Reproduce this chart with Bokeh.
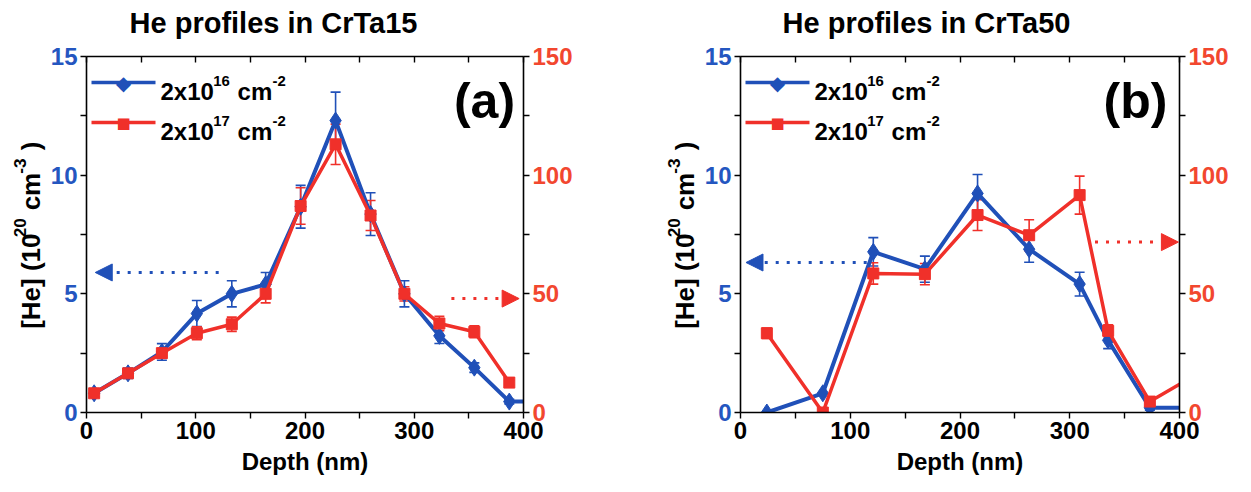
import math
from bokeh.plotting import figure
from bokeh.models import (Range1d, LinearAxis, FixedTicker, Whisker, ColumnDataSource,
                          Label, BoxAnnotation, Arrow, NormalHead, TeeHead)
from bokeh.layouts import row, column
from bokeh.embed import file_html
from bokeh.resources import INLINE

# ---------------- data ----------------
# Panel (a): CrTa15
depth_a = [7, 38, 69, 101, 133, 164, 196, 228, 260, 291, 323, 355, 387, 419]
blue_a = [0.81, 1.65, 2.55, 4.17, 5.0, 5.4, 8.67, 12.3, 8.36, 5.0, 3.23, 1.89, 0.46, 0.46]
blue_a_err = [0.15, 0.22, 0.35, 0.55, 0.55, 0.5, 0.9, 1.2, 0.9, 0.55, 0.32, 0.2, 0.1, 0.1]
red_depth_a = [7, 38, 69, 101, 133, 164, 196, 228, 260, 291, 323, 355, 387]
red_a = [8.1, 16.5, 25.0, 33.4, 37.2, 50.0, 87.0, 113.0, 83.0, 50.0, 37.5, 34.0, 12.6]
red_a_err = [1.2, 1.5, 2.0, 2.7, 3.0, 3.8, 7.7, 8.5, 6.3, 3.0, 3.0, 2.5, 1.0]

# Panel (b): CrTa50
depth_b = [24, 75, 121, 168, 216, 263, 309, 335, 373, 421]
blue_b = [0.0, 0.81, 6.77, 6.04, 9.23, 6.88, 5.41, 3.04, 0.2, 0.2]
blue_b_err = [0.0, 0.0, 0.6, 0.55, 0.8, 0.55, 0.5, 0.35, 0.1, 0.1]
red_b = [33.4, 0.0, 58.6, 58.3, 83.2, 74.7, 91.6, 34.4, 4.6, 17.6]
red_b_err = [2.2, 0.0, 4.5, 4.5, 6.5, 6.5, 8.0, 2.5, 1.0, 1.0]

x_ticks = [0, 100, 200, 300, 400]
x_minor = [50, 150, 250, 350]
top_ticks = [0, 50, 100, 150, 200, 250, 300, 350, 400]
left_ticks = [0, 5, 10, 15]
left_minor = [2.5, 7.5, 12.5]
right_ticks = [0, 50, 100, 150]
right_minor = [25, 75, 125]

titles = ["He profiles in CrTa15", "He profiles in CrTa50"]
panel_tags = ["(a)", "(b)"]
x_label = "Depth (nm)"
y_label_pieces = [("[He] (10", False), ("20", True), ("cm", False), ("-3", True), (")", False)]
legend_texts = [[("2x10", False), ("16", True), ("cm", False), ("-2", True)],
                [("2x10", False), ("17", True), ("cm", False), ("-2", True)]]

# arrow annotations: (x_start, x_end, y) blue on left scale, red on right scale
arrows_a = {"blue": (121, 8, 5.9), "red": (334, 396, 48)}
arrows_b = {"blue": (115, 5, 6.32), "red": (323, 399, 71.8)}

# ---------------- style ----------------
BLUE = "#2050B8"
RED = "#F0302A"
RED_LBL = "#F2472F"
BLUE_LBL = "#2456C0"
FONT = "Liberation Sans"
H = 492           # page height
HT = 40           # title strip height
HP = H - HT       # panel height
FRAME_TOP = 56    # page coords
FRAME_BOTTOM = 412

W_EM = {'0': .556, '1': .556, '2': .556, '3': .556, '4': .556, '5': .556, '6': .556,
        '7': .556, '8': .556, '9': .556, 'x': .556, ' ': .278, 'c': .556, 'm': .889,
        '-': .333, '[': .333, ']': .333, '(': .333, ')': .333, 'H': .722, 'e': .556}


def tw(s, size):
    return sum(W_EM.get(ch, .6) for ch in s) * size * 0.95


def bare_fig(width, height):
    f = figure(width=width, height=height, x_range=Range1d(0, 1), y_range=Range1d(0, 1),
               min_border=0, x_axis_type=None, y_axis_type=None, title=None,
               output_backend="svg", toolbar_location=None)
    f.outline_line_color = None
    f.grid.visible = False
    return f


def rich_h(p, X0, Y, pieces, size, color):
    """Horizontal text with superscripts, frame-relative screen coords (Y = page y)."""
    x = X0
    prev_sup = None
    for txt, sup in pieces:
        s = size * 0.62 if sup else size
        if prev_sup is True and not sup:
            x += 0.32 * size
        yy = Y - (size * 0.45 if sup else 0)
        p.add_layout(Label(x=x, y=FRAME_BOTTOM - yy, x_units="screen", y_units="screen",
                           text=txt, text_font=FONT, text_font_style="bold",
                           text_font_size=f"{s:.1f}px", text_color=color,
                           text_align="left", text_baseline="alphabetic"))
        x += tw(txt, s) + (1 if sup else 2)
        prev_sup = sup


def ylabel_fig(width, xc, ycenter, pieces, size):
    """A bare canvas holding the rotated y-axis title (with superscripts).
    Its frame is aligned with the neighbouring plot frames (page y 56..412)."""
    f = bare_fig(width, HP)
    sizes = [size * 0.66 if sup else size for _, sup in pieces]
    gaps = []
    prev = None
    for (_, sup) in pieces:
        gaps.append(0.3 * size if (prev is True and not sup) else 0)
        prev = sup
    total = sum(tw(t, s) + g for (t, _), s, g in zip(pieces, sizes, gaps))
    y = (FRAME_BOTTOM - ycenter) - total / 2
    for (txt, sup), s, g in zip(pieces, sizes, gaps):
        y += g
        xx = xc - (size * 0.40 if sup else 0)
        f.add_layout(Label(x=xx, y=y, x_units="screen", y_units="screen",
                           text=txt, text_font=FONT, text_font_style="bold",
                           text_font_size=f"{s:.1f}px", text_color="black", angle=math.pi / 2,
                           text_align="left", text_baseline="middle"))
        y += tw(txt, s) + 1
    return f


def style_axis(ax, ticks, minor, label_color, inward=False):
    ax.ticker = FixedTicker(ticks=ticks, minor_ticks=minor)
    ax.axis_line_color = "black"
    ax.axis_line_width = 1.6
    ax.major_tick_line_color = "black"
    ax.minor_tick_line_color = "black"
    ax.major_tick_line_width = 1.4
    ax.minor_tick_line_width = 1.4
    if inward:
        ax.major_tick_in, ax.major_tick_out = 6, 0
        ax.minor_tick_in, ax.minor_tick_out = 6, 0
    else:
        ax.major_tick_in, ax.major_tick_out = 0, 6
        ax.minor_tick_in, ax.minor_tick_out = 0, 6
    ax.major_label_text_font = FONT
    ax.major_label_text_font_style = "bold"
    ax.major_label_text_font_size = "24px"
    ax.major_label_text_color = label_color
    ax.major_label_standoff = 3
    ax.axis_label_text_font = FONT
    ax.axis_label_text_font_style = "bold"
    ax.axis_label_text_font_size = "24px"
    ax.axis_label_text_color = "black"


def panel(idx, width, border_left, frame_w, depth, blue, blue_err, rdepth, red, red_err, arrows):
    border_right = width - border_left - frame_w
    p = figure(width=width, height=HP, x_range=Range1d(0, 400), y_range=Range1d(0, 15),
               output_backend="svg", toolbar_location=None, title=None,
               min_border_left=border_left, min_border_right=border_right,
               min_border_top=FRAME_TOP - HT, min_border_bottom=H - FRAME_BOTTOM)
    p.extra_y_ranges = {"right": Range1d(0, 150)}
    p.outline_line_color = None
    p.grid.visible = False
    p.background_fill_color = "white"
    p.border_fill_color = "white"

    style_axis(p.xaxis[0], x_ticks, x_minor, "black")
    p.xaxis[0].axis_label = x_label
    p.xaxis[0].axis_label_standoff = 6
    style_axis(p.yaxis[0], left_ticks, left_minor, BLUE_LBL)

    right = LinearAxis(y_range_name="right")
    style_axis(right, right_ticks, right_minor, RED_LBL)
    p.add_layout(right, "right")
    top = LinearAxis()
    style_axis(top, [], top_ticks, "black", inward=True)
    p.add_layout(top, "above")

    # blue series
    bsrc = ColumnDataSource(dict(x=depth, y=blue))
    p.line("x", "y", source=bsrc, line_color=BLUE, line_width=4)
    p.scatter("x", "y", source=bsrc, marker="diamond", size=17, fill_color=BLUE, line_color=BLUE)
    bw = [(d, v, e) for d, v, e in zip(depth, blue, blue_err) if d <= 400 and e > 0]
    bws = ColumnDataSource(dict(x=[a for a, _, _ in bw], upper=[v + e for _, v, e in bw],
                                lower=[v - e for _, v, e in bw]))
    p.add_layout(Whisker(source=bws, base="x", upper="upper", lower="lower",
                         line_color=BLUE, line_width=1.6,
                         upper_head=TeeHead(size=10, line_color=BLUE, line_width=1.6),
                         lower_head=TeeHead(size=10, line_color=BLUE, line_width=1.6)))

    # red series
    rsrc = ColumnDataSource(dict(x=rdepth, y=red))
    p.line("x", "y", source=rsrc, line_color=RED, line_width=3.5, y_range_name="right")
    p.scatter("x", "y", source=rsrc, marker="square", size=11, fill_color=RED, line_color=RED,
              y_range_name="right")
    rw = [(d, v, e) for d, v, e in zip(rdepth, red, red_err) if d <= 400 and e > 0]
    rws = ColumnDataSource(dict(x=[a for a, _, _ in rw], upper=[v + e for _, v, e in rw],
                                lower=[v - e for _, v, e in rw]))
    p.add_layout(Whisker(source=rws, base="x", upper="upper", lower="lower",
                         line_color=RED, line_width=1.6, y_range_name="right",
                         upper_head=TeeHead(size=10, line_color=RED, line_width=1.6),
                         lower_head=TeeHead(size=10, line_color=RED, line_width=1.6)))

    # arrows
    bx0, bx1, by = arrows["blue"]
    p.add_layout(Arrow(x_start=bx0, y_start=by, x_end=bx1, y_end=by, line_color=BLUE,
                       line_width=3, line_dash="3 8",
                       end=NormalHead(size=17, fill_color=BLUE, line_color=BLUE)))
    rx0, rx1, ry = arrows["red"]
    p.add_layout(Arrow(x_start=rx0, y_start=ry, x_end=rx1, y_end=ry, line_color=RED,
                       line_width=3, line_dash="3 8", y_range_name="right",
                       end=NormalHead(size=17, fill_color=RED, line_color=RED)))

    # panel tag
    tag_cx = [398, 395][idx]
    p.add_layout(Label(x=tag_cx, y=FRAME_BOTTOM - 100, x_units="screen", y_units="screen",
                       text=panel_tags[idx], text_font=FONT, text_font_style="bold",
                       text_font_size="50px", text_color="black",
                       text_align="center", text_baseline="middle"))

    # legend
    lx0 = 5
    for k, (col, mk, msize) in enumerate([(BLUE, "\u25C6", 20), (RED, "\u25A0", 15)]):
        yrow = 82 + 40 * k
        p.add_layout(BoxAnnotation(left=lx0, right=lx0 + 64,
                                   bottom=FRAME_BOTTOM - yrow - 1.8, top=FRAME_BOTTOM - yrow + 1.8,
                                   left_units="screen", right_units="screen",
                                   bottom_units="screen", top_units="screen",
                                   fill_color=col, fill_alpha=1.0, line_color=None))
        p.add_layout(Label(x=lx0 + 32, y=FRAME_BOTTOM - yrow, x_units="screen",
                           y_units="screen", text=mk, text_font="DejaVu Sans",
                           text_font_size=f"{msize}px", text_color=col,
                           text_align="center", text_baseline="middle"))
        rich_h(p, lx0 + 69, yrow + 9, legend_texts[k], 24, "black")
    return p


# title strip
tfig = bare_fig(1251, HT)
for cx, t in zip([273, 926], titles):
    tfig.add_layout(Label(x=cx, y=HT - 22, x_units="screen", y_units="screen", text=t,
                          text_font=FONT, text_font_style="bold", text_font_size="29px",
                          text_color="black", text_align="center", text_baseline="middle"))

ya = ylabel_fig(47, 30, 237, y_label_pieces, 26)
pa = panel(0, 573, 36, 440, depth_a, blue_a, blue_a_err, red_depth_a, red_a, red_a_err, arrows_a)
yb = ylabel_fig(81, 64, 237, y_label_pieces, 26)
pb = panel(1, 550, 36, 442, depth_b, blue_b, blue_b_err, depth_b, red_b, red_b_err, arrows_b)

layout = column(tfig, row(ya, pa, yb, pb))
open("out.html", "w").write(file_html(layout, INLINE))
